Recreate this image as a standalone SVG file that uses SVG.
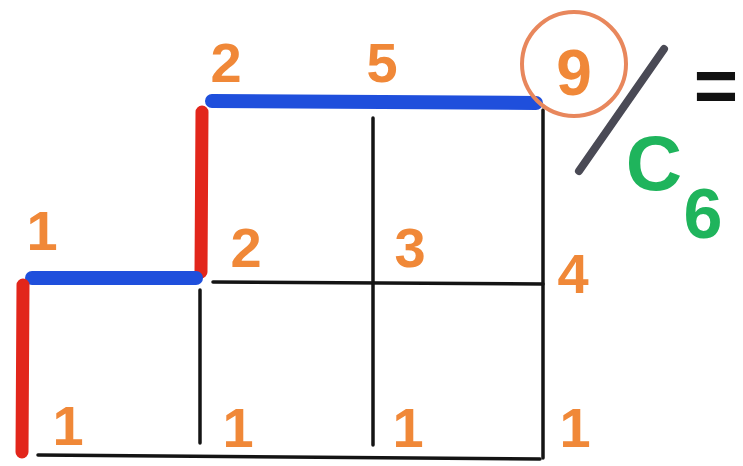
<svg xmlns="http://www.w3.org/2000/svg" width="743" height="466" viewBox="0 0 743 466">
<style>
.grid{stroke:#141414;stroke-width:3.5;stroke-linecap:round;fill:none}
.blue{stroke:#1f4fdc;stroke-width:14;stroke-linecap:round;fill:none}
.red{stroke:#e2261b;stroke-width:13;stroke-linecap:round;fill:none}
.num{font-family:"Liberation Sans",Arial,sans-serif;font-weight:bold;font-size:56px;fill:#f08838;text-anchor:middle}
.green{font-family:"Liberation Sans",Arial,sans-serif;font-weight:bold;fill:#1fb45c;text-anchor:middle}
</style>
<rect width="743" height="466" fill="#ffffff"/>
<g id="grid">
  <line class="grid" x1="373" y1="118" x2="373" y2="445"/>
  <line class="grid" x1="543" y1="110" x2="543" y2="458"/>
  <line class="grid" x1="213" y1="282" x2="543" y2="284"/>
  <line class="grid" x1="200" y1="290" x2="200" y2="443"/>
  <line class="grid" x1="38" y1="455" x2="540" y2="459"/>
</g>
<g id="path">
  <line class="blue" x1="212" y1="101" x2="536" y2="103"/>
  <line class="red" x1="202" y1="112" x2="201" y2="272"/>
  <line class="blue" x1="32" y1="278" x2="196" y2="278"/>
  <line class="red" x1="23" y1="285" x2="22" y2="452"/>
</g>
<g id="labels">
  <text class="num" x="226" y="82">2</text>
  <text class="num" x="382" y="82">5</text>
  <text class="num" x="42" y="250">1</text>
  <text class="num" x="246" y="267">2</text>
  <text class="num" x="410" y="267">3</text>
  <text class="num" x="573" y="293">4</text>
  <text class="num" x="68" y="445">1</text>
  <text class="num" x="238" y="447">1</text>
  <text class="num" x="408" y="447">1</text>
  <text class="num" x="575" y="447">1</text>
</g>
<g id="result">
  <circle cx="574" cy="64" r="52" fill="none" stroke="#e8875c" stroke-width="4"/>
  <text class="num" x="574" y="95" style="font-size:64px">9</text>
  <line x1="579" y1="171" x2="664" y2="49" stroke="#4a4a55" stroke-width="8" stroke-linecap="round"/>
  <text x="716" y="112" style="font-family:'Liberation Sans',Arial,sans-serif;font-weight:bold;font-size:76px;fill:#111;text-anchor:middle">=</text>
  <text class="green" x="654" y="190" style="font-size:78px">C</text>
  <text class="green" x="703" y="238" style="font-size:70px">6</text>
</g>
</svg>
